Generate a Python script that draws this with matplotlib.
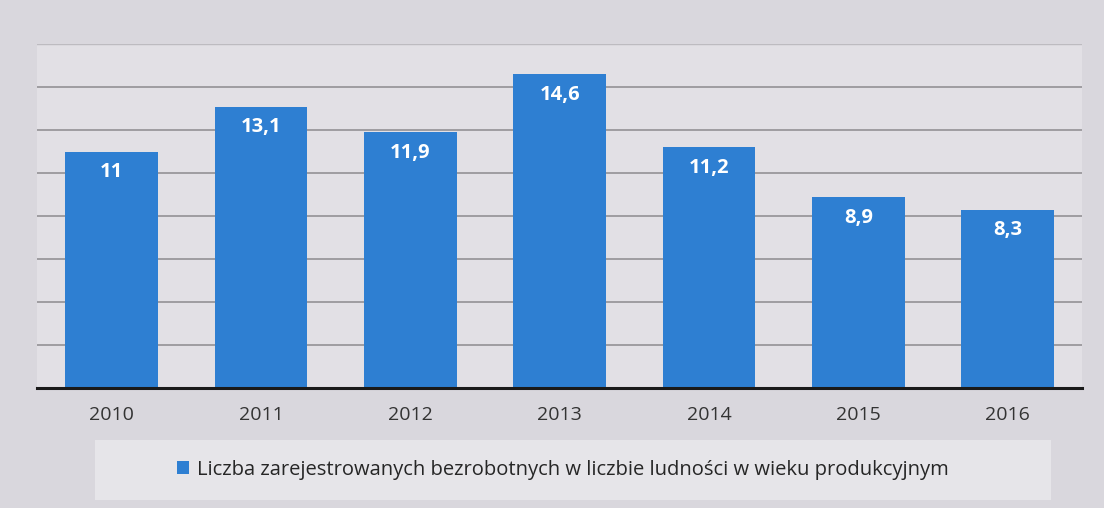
import matplotlib.pyplot as plt
from matplotlib.patches import Rectangle

years = ["2010", "2011", "2012", "2013", "2014", "2015", "2016"]
values = [11, 13.1, 11.9, 14.6, 11.2, 8.9, 8.3]
value_labels = ["11", "13,1", "11,9", "14,6", "11,2", "8,9", "8,3"]
series_name = "Liczba zarejestrowanych bezrobotnych w liczbie ludności w wieku produkcyjnym"

plt.rcParams['font.family'] = ['Open Sans', 'DejaVu Sans']

fig = plt.figure(figsize=(11.04, 5.08), dpi=100)
fig.patch.set_facecolor("#d9d7dd")
ax = fig.add_axes([0.0335, 0.236, 0.947, 0.677])
ax.set_facecolor("#e2e0e5")

x = range(len(years))
bars = ax.bar(x, values, width=0.62, color="#2e7fd2", zorder=3, label=series_name)

# value labels inside the bars
for b, lab in zip(bars, value_labels):
    ax.text(b.get_x() + b.get_width() / 2, b.get_height() - 0.5, lab,
            ha="center", va="top", color="white", fontsize=14.5, fontweight="bold", zorder=4)

ax.set_xlim(-0.5, 6.5)
ax.set_ylim(0, 16)
ax.set_yticks(range(2, 15, 2))
ax.yaxis.grid(True, color="#8c8a8e", linewidth=1.1, zorder=0)
ax.axhline(16, color="#bdbbc0", linewidth=1, zorder=0)
ax.tick_params(axis="y", left=False, labelleft=False)
ax.set_xticks(list(x))
ax.set_xticklabels(years, fontsize=14, color="#333333")
ax.tick_params(axis="x", length=0, pad=13)

for s in ["top", "right", "left"]:
    ax.spines[s].set_visible(False)
ax.spines["bottom"].set_color("#1a1a1a")
ax.spines["bottom"].set_linewidth(2.2)
ax.spines["bottom"].set_zorder(5)

# light legend band behind the legend
fig.add_artist(Rectangle((0.086, 0.015), 0.866, 0.118, transform=fig.transFigure,
                         facecolor="#e6e5e9", edgecolor="none", zorder=0))
leg = fig.legend(loc="center", bbox_to_anchor=(0.51, 0.075), frameon=False, fontsize=14.5,
                 handlelength=0.6, handleheight=0.6, handletextpad=0.4)
for t in leg.get_texts():
    t.set_color("#262626")

fig.savefig("out.png", dpi=100, facecolor=fig.get_facecolor())
